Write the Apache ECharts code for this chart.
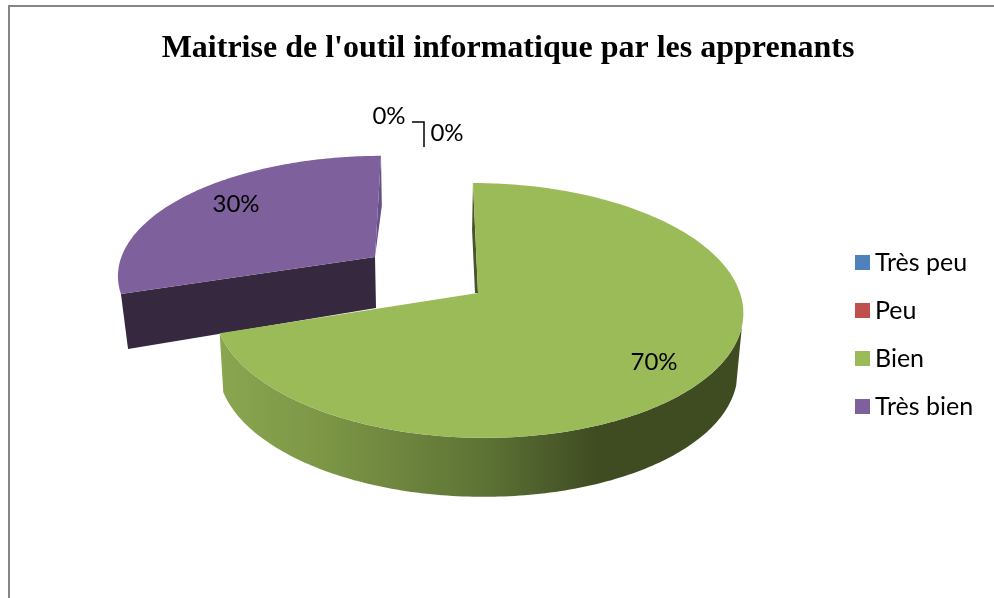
<!DOCTYPE html>
<html>
<head>
<meta charset="utf-8">
<title>Maitrise de l'outil informatique par les apprenants</title>
<script src="https://cdn.jsdelivr.net/npm/echarts@6/dist/echarts.min.js"></script>
<style>
  html, body { margin: 0; padding: 0; background: #fff; }
  #chart { width: 994px; height: 598px; }
</style>
</head>
<body>
<div id="chart"></div>
<script>
  const titleText = "Maitrise de l'outil informatique par les apprenants";
  const categories = ['Très peu', 'Peu', 'Bien', 'Très bien'];
  const values = [0, 0, 70, 30];
  const colors = ['#4f81bd', '#c0504d', '#9bbb59', '#7e609c'];

  const labelFont = '24px Lato, "Noto Sans", sans-serif';
  const tilt = 0.137;
  const total = values.reduce((a, b) => a + b, 0);

  // the pie is tilted and has depth, so each slice is projected by hand from its angle
  const sliceLayout = {
    'Bien': { cx: 478, cy: 293, a: 262, b: 125, skew: -5.7, depth: 59, backDepth: 47, xScale: 0.982, xShift: -1, side: [105, 252], labelX: 654, labelY: 362 },
    'Très bien': { cx: 375, cy: 257, a: 253.6, b: 115, skew: 6.8, depth: 52, backDepth: 50, xScale: 0.976, xShift: 1, labelX: 236, labelY: 204 },
    'Très peu': { labelX: 389, labelY: 116, leader: true },
    'Peu': { labelX: 447, labelY: 133 },
  };

  function project(s, deg) {
    const t = deg * Math.PI / 180;
    const u = Math.sin(t);
    const v = Math.cos(t);
    const w = 1 + tilt * v;
    return [s.cx + (s.a * u + s.skew * v) / w, s.cy - s.b * v / w];
  }

  function lower(s, p, depth) {
    return [s.cx + s.xScale * (p[0] - s.cx) + s.xShift, p[1] + depth];
  }

  function arc(s, from, to) {
    const pts = [];
    for (let d = from; d <= to; d += 1) pts.push(project(s, d));
    if (pts.length && (to - from) % 1 !== 0) pts.push(project(s, to));
    return pts;
  }

  function poly(points, fill, z2) {
    return { type: 'polygon', z2: z2, shape: { points: points }, style: { fill: fill } };
  }

  function sliceText(text, s) {
    return {
      type: 'text',
      z2: 10,
      style: { text: text, x: s.labelX, y: s.labelY, font: labelFont, fill: '#000', align: 'center', verticalAlign: 'middle' },
    };
  }

  const sideGradient = new echarts.graphic.LinearGradient(0, 0, 1, 0, [
    { offset: 0, color: '#8aa650' },
    { offset: 0.2, color: '#7c9646' },
    { offset: 0.5, color: '#5e7436' },
    { offset: 0.72, color: '#3f4c22' },
    { offset: 1, color: '#3f4c22' },
  ]);

  function renderSlice(params, api) {
    const name = categories[params.seriesIndex];
    const s = sliceLayout[name];
    const value = api.value(0);
    const children = [];
    const pct = Math.round(value / total * 100) + '%';

    if (value > 0) {
      const start = values.slice(0, params.seriesIndex).reduce((a, b) => a + b, 0) / total * 360;
      const end = start + value / total * 360;
      const top = arc(s, start, end);
      const apex = [s.cx, s.cy];

      if (s.side) {
        const edge = arc(s, s.side[0], s.side[1]);
        const low = edge.map(p => lower(s, p, s.depth)).reverse();
        children.push(poly(edge.concat(low), sideGradient, 1));
        // sliver of the cut face showing along the 0 degree edge
        const out = project(s, 0);
        children.push(poly([out, lower(s, out, s.backDepth), [apex[0] - 3, apex[1]], apex], '#46552a', 1));
      } else {
        const out = project(s, end);
        const lastOut = project(s, start);
        // back cut face, then the front cut face
        children.push(poly([out, lower(s, out, s.backDepth), apex], '#66508a', 1));
        children.push(poly([lastOut, apex, lower(s, apex, s.depth - 1), lower(s, lastOut, s.depth + 3)], '#35283f', 2));
      }
      children.push(poly(top.concat([apex]), colors[params.seriesIndex], 3));
    }

    children.push(sliceText(pct, s));
    if (s.leader) {
      children.push({
        type: 'polyline',
        z2: 10,
        shape: { points: [[412, 122], [424, 122], [424, 147]] },
        style: { stroke: '#000', lineWidth: 1.5, fill: null },
      });
    }
    return { type: 'group', children: children };
  }

  const chart = echarts.init(document.getElementById('chart'));
  chart.setOption({
    animation: false,
    backgroundColor: '#fff',
    title: {
      text: titleText,
      left: 503,
      top: 28,
      textAlign: 'center',
      textStyle: { fontFamily: '"Liberation Serif", serif', fontWeight: 'bold', fontSize: 32, color: '#000' },
    },
    legend: {
      orient: 'vertical',
      left: 850,
      top: 245,
      icon: 'rect',
      itemWidth: 15,
      itemHeight: 15,
      itemGap: 23,
      data: categories,
      textStyle: { fontFamily: 'Lato, "Noto Sans", sans-serif', fontSize: 25, color: '#000' },
    },
    graphic: [{
      type: 'polyline',
      silent: true,
      shape: { points: [[9, 598], [9, 6], [994, 6]] },
      style: { stroke: '#868686', lineWidth: 2, fill: null },
    }],
    series: categories.map((name, i) => ({
      type: 'custom',
      name: name,
      coordinateSystem: 'none',
      z: name === 'Bien' ? 3 : 2,
      itemStyle: { color: colors[i] },
      renderItem: renderSlice,
      data: [[values[i]]],
    })),
  });
</script>
</body>
</html>
